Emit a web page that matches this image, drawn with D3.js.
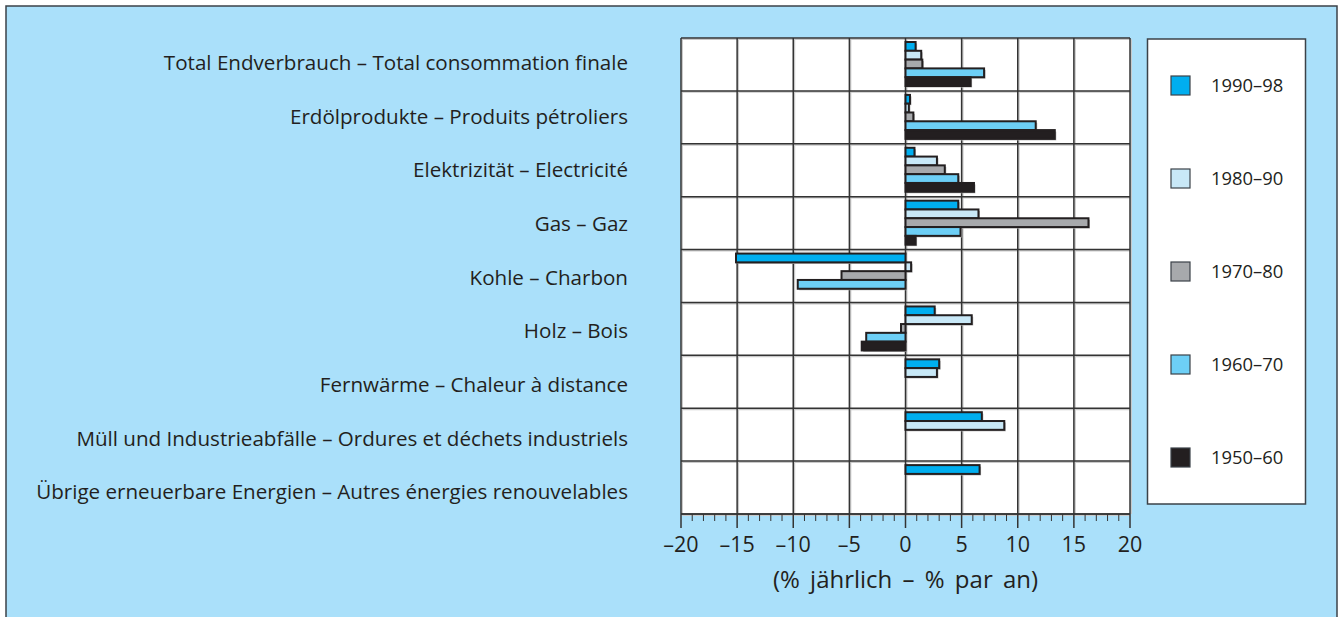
<!DOCTYPE html>
<html>
<head>
<meta charset="utf-8">
<script src="https://cdn.jsdelivr.net/npm/d3@7"></script>
<style>
  body { margin: 0; background: #fff; }
  svg { display: block; font-family: "Open Sans", "Noto Sans", sans-serif; }
</style>
</head>
<body>
<div id="chart"></div>
<script>
// categories (top to bottom)
const categories = [
    "Total Endverbrauch – Total consommation finale",
    "Erdölprodukte – Produits pétroliers",
    "Elektrizität – Electricité",
    "Gas – Gaz",
    "Kohle – Charbon",
    "Holz – Bois",
    "Fernwärme – Chaleur à distance",
    "Müll und Industrieabfälle – Ordures et déchets industriels",
    "Übrige erneuerbare Energien – Autres énergies renouvelables"
];
const periods = ["1990–98", "1980–90", "1970–80", "1960–70", "1950–60"];

// % per year, one array per period, null = no bar
const v1990 = [0.9, 0.4, 0.8, 4.7, -15.1, 2.6, 3.0, 6.8, 6.6];
const v1980 = [1.4, 0.3, 2.8, 6.5, 0.5, 5.9, 2.8, 8.8, null];
const v1970 = [1.5, 0.7, 3.5, 16.3, -5.7, -0.4, null, null, null];
const v1960 = [7.0, 11.6, 4.7, 4.9, -9.6, -3.5, null, null, null];
const v1950 = [5.8, 13.3, 6.1, 0.9, null, -3.9, null, null, null];

const xTicks = [-20, -15, -10, -5, 0, 5, 10, 15, 20];
const xTitle = "(% jährlich – % par an)";

const seriesValues = [v1990, v1980, v1970, v1960, v1950];
const colors = ["#00aeef", "#c8e8f7", "#a7a9ac", "#6dcff6", "#231f20"];

const width = 1342, height = 617;
const plot = {left: 681, right: 1130, top: 38, bottom: 514};

const svg = d3.select("#chart").append("svg")
    .attr("width", width)
    .attr("height", height);

// page background with frame
svg.append("rect")
    .attr("x", 0).attr("y", 0).attr("width", width).attr("height", height)
    .attr("fill", "#ffffff");
svg.append("rect")
    .attr("x", 6).attr("y", 6).attr("width", 1331).attr("height", 640)
    .attr("fill", "#aae0fa")
    .attr("stroke", "#3b4248")
    .attr("stroke-width", 1.5);

const xScale = d3.scaleLinear().domain([-20, 20]).range([plot.left, plot.right]);
const yScale = d3.scaleBand().domain(categories).range([plot.top, plot.bottom]);
const yInner = d3.scaleBand().domain(periods).range([4, 48]);
// labels sit slightly lower towards the bottom rows
const yLabel = d3.scalePoint().domain(categories).range([63, 492]);

// flatten data for bars
const bars = [];
categories.forEach((c, i) => {
    periods.forEach((p, j) => {
        const v = seriesValues[j][i];
        if (v !== null) bars.push({cat: c, period: p, value: v, color: colors[j]});
    });
});

const g = svg.append("g");

// plot background
g.append("rect")
    .attr("x", plot.left).attr("y", plot.top)
    .attr("width", plot.right - plot.left).attr("height", plot.bottom - plot.top)
    .attr("fill", "#ffffff");

// grid (shadow first, then line)
const vLines = xTicks;
const hLines = categories.map(c => yScale(c)).concat([plot.bottom]);

[["#c9c9c9", 1.2], ["#333333", 0]].forEach(([col, off]) => {
    g.selectAll(null)
        .data(vLines)
        .enter()
        .append("line")
        .attr("x1", d => xScale(d) + off).attr("x2", d => xScale(d) + off)
        .attr("y1", plot.top + off).attr("y2", plot.bottom)
        .attr("stroke", col)
        .attr("stroke-width", 1.5);
    g.selectAll(null)
        .data(hLines)
        .enter()
        .append("line")
        .attr("x1", plot.left + off).attr("x2", plot.right)
        .attr("y1", d => d + off).attr("y2", d => d + off)
        .attr("stroke", col)
        .attr("stroke-width", 1.5);
});

// bar shadows
g.selectAll(".barShadow")
    .data(bars)
    .enter()
    .append("rect")
    .attr("class", "barShadow")
    .attr("x", d => Math.min(xScale(0), xScale(d.value)) + 1.5)
    .attr("y", d => yScale(d.cat) + yInner(d.period) + 1.5)
    .attr("width", d => Math.abs(xScale(d.value) - xScale(0)))
    .attr("height", yInner.bandwidth())
    .attr("fill", "#b5b5b5");

// bars
g.selectAll(".bar")
    .data(bars)
    .enter()
    .append("rect")
    .attr("class", "bar")
    .attr("x", d => Math.min(xScale(0), xScale(d.value)))
    .attr("y", d => yScale(d.cat) + yInner(d.period))
    .attr("width", d => Math.abs(xScale(d.value) - xScale(0)))
    .attr("height", yInner.bandwidth())
    .attr("fill", d => d.color)
    .attr("stroke", "#231f20")
    .attr("stroke-width", 2);

// x axis with minor ticks
const minorTicks = d3.range(-20, 21, 1);
const axisG = svg.append("g").attr("transform", `translate(0,${plot.bottom})`);
axisG.append("line")
    .attr("x1", plot.left).attr("x2", plot.right)
    .attr("y1", 0).attr("y2", 0)
    .attr("stroke", "#333").attr("stroke-width", 1.5);
axisG.selectAll(".minor")
    .data(minorTicks)
    .enter()
    .append("line")
    .attr("class", "minor")
    .attr("x1", d => xScale(d)).attr("x2", d => xScale(d))
    .attr("y1", 0).attr("y2", d => d % 5 === 0 ? 14 : 7)
    .attr("stroke", "#333")
    .attr("stroke-width", d => d % 5 === 0 ? 1.5 : 1);
axisG.selectAll(".tickLabel")
    .data(xTicks)
    .enter()
    .append("text")
    .attr("class", "tickLabel")
    .attr("x", d => xScale(d))
    .attr("y", 38)
    .attr("text-anchor", "middle")
    .attr("font-size", 21.5)
    .attr("fill", "#231f20")
    .text(d => d < 0 ? "–" + Math.abs(d) : d);

svg.append("text")
    .attr("x", xScale(0))
    .attr("y", 588)
    .attr("text-anchor", "middle")
    .attr("font-size", 24)
    .attr("word-spacing", 4)
    .attr("fill", "#231f20")
    .text(xTitle);

// category labels
svg.selectAll(".catLabel")
    .data(categories)
    .enter()
    .append("text")
    .attr("class", "catLabel")
    .attr("x", 628)
    .attr("y", d => yLabel(d))
    .attr("dy", "0.35em")
    .attr("text-anchor", "end")
    .attr("font-size", 20.6)
    .attr("fill", "#231f20")
    .text(d => d);

// legend
const legend = svg.append("g");
legend.append("rect")
    .attr("x", 1147.5).attr("y", 39)
    .attr("width", 158).attr("height", 465)
    .attr("fill", "#ffffff")
    .attr("stroke", "#3b4248")
    .attr("stroke-width", 1.5);
const legendY = d3.scalePoint().domain(periods).range([85.5, 457.5]);
const items = legend.selectAll(".item")
    .data(periods)
    .enter()
    .append("g")
    .attr("class", "item")
    .attr("transform", d => `translate(1171,${legendY(d)})`);
items.append("rect")
    .attr("x", 0).attr("y", -9.5)
    .attr("width", 19).attr("height", 19)
    .attr("fill", (d, i) => colors[i])
    .attr("stroke", "#3b4248")
    .attr("stroke-width", 1.2);
items.append("text")
    .attr("x", 40)
    .attr("y", 0)
    .attr("dy", "0.35em")
    .attr("font-size", 18.4)
    .attr("fill", "#231f20")
    .text(d => d);
</script>
</body>
</html>
